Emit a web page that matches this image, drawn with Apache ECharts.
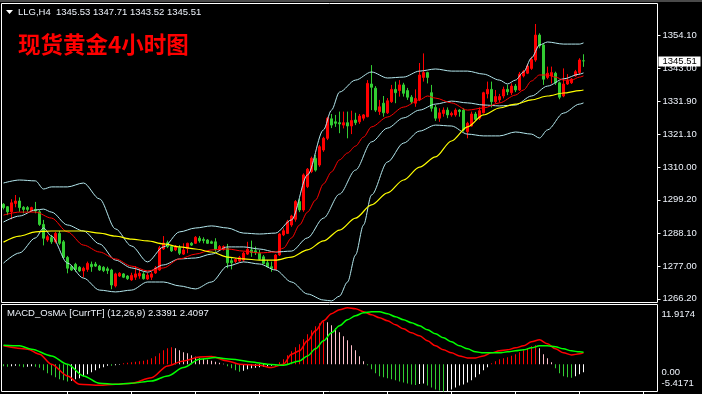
<!DOCTYPE html>
<html><head><meta charset="utf-8">
<script src="https://cdn.jsdelivr.net/npm/echarts@6/dist/echarts.min.js"></script>
<style>html,body{margin:0;padding:0;background:#000;overflow:hidden}#c{width:702px;height:394px}</style>
</head><body><div id="c"></div>
<script>
// ---------- text ----------
const symbolName = 'LLG,H4';
const chartTitle = '现货黄金4小时图';
const indicatorTitle = 'MACD_OsMA [CurrTF] (12,26,9)';

// ---------- candles (H4 bars, oldest first) ----------
const opens = [1297.7,1296.9,1295.2,1298.0,1298.8,1296.7,1296.6,1295.5,1296.0,1295.2,1291.0,1285.8,1286.6,1285.2,1288.0,1285.2,1280.0,1276.9,1277.7,1276.7,
1275.5,1276.0,1277.7,1277.8,1277.1,1276.7,1276.2,1275.8,1270.5,1273.8,1274.5,1273.8,1272.5,1273.4,1273.8,1274.5,1272.8,1273.4,1274.8,1275.8,
1282.8,1284.9,1283.6,1282.5,1283.2,1281.1,1283.0,1284.7,1284.7,1286.4,1286.0,1285.8,1285.2,1285.2,1282.5,1282.7,1283.0,1278.9,1278.6,1278.8,
1279.1,1281.1,1282.5,1282.2,1281.4,1280.2,1278.2,1276.9,1276.0,1280.8,1287.5,1288.0,1290.8,1292.7,1298.6,1295.8,1303.6,1308.6,1313.0,1310.8,
1315.8,1319.7,1326.2,1325.2,1324.9,1324.1,1324.9,1323.8,1325.8,1325.2,1326.4,1326.9,1337.8,1336.4,1328.6,1331.4,1328.2,1331.9,1336.0,1335.6,
1337.5,1335.6,1333.4,1331.4,1332.5,1340.0,1341.6,1334.9,1330.0,1326.4,1328.0,1329.1,1327.5,1327.5,1329.1,1329.1,1321.9,1323.8,1327.8,1326.4,
1328.2,1334.5,1336.0,1331.9,1332.5,1333.8,1336.0,1334.9,1337.1,1335.8,1340.5,1341.4,1343.0,1345.8,1354.1,1350.8,1340.0,1340.5,1341.4,1338.2,
1333.8,1337.8,1338.2,1340.5,1341.6,1345.53];
const closes = [1296.6,1295.2,1298.2,1298.8,1296.6,1296.0,1296.0,1296.6,1295.5,1291.0,1286.4,1286.9,1285.2,1288.0,1284.7,1280.0,1276.4,1275.8,1276.0,1275.5,
1276.4,1278.0,1276.9,1277.1,1275.8,1275.6,1275.6,1270.8,1274.5,1274.7,1273.4,1272.9,1274.0,1274.5,1274.7,1272.9,1274.1,1274.5,1276.5,1283.2,
1284.8,1283.6,1282.2,1283.6,1281.4,1282.5,1284.7,1284.1,1286.7,1285.5,1285.6,1284.7,1284.7,1282.7,1283.6,1283.6,1278.2,1278.2,1279.4,1280.0,
1281.4,1282.7,1281.6,1281.6,1279.4,1278.0,1276.9,1276.4,1280.8,1287.8,1288.9,1291.9,1293.8,1298.6,1295.8,1307.5,1309.4,1313.0,1309.1,1316.9,
1319.7,1326.4,1324.1,1324.7,1324.5,1324.9,1323.8,1325.6,1324.9,1327.1,1327.5,1338.0,1336.7,1329.1,1330.2,1328.2,1332.2,1336.0,1334.9,1337.5,
1334.7,1333.4,1331.9,1333.0,1340.8,1341.6,1340.0,1329.7,1326.4,1328.2,1329.1,1327.5,1328.0,1329.1,1328.6,1322.5,1324.7,1327.8,1326.0,1328.9,
1334.9,1336.0,1331.9,1333.6,1333.6,1336.0,1335.2,1337.1,1335.8,1341.1,1341.9,1343.8,1346.0,1354.1,1350.5,1339.4,1341.4,1341.6,1338.2,1333.4,
1337.8,1338.9,1339.4,1341.9,1345.8,1345.51];
const lows = [1296.0,1294.1,1292.7,1296.7,1295.2,1294.7,1295.2,1295.2,1294.7,1290.5,1284.0,1285.2,1284.5,1284.7,1284.1,1279.7,1274.7,1275.5,1275.2,1275.1,
1273.4,1275.2,1275.2,1276.8,1275.5,1275.1,1274.5,1269.4,1270.0,1273.5,1273.1,1272.5,1272.2,1272.5,1272.9,1272.6,1272.5,1272.5,1274.5,1275.5,
1282.5,1283.1,1281.8,1282.1,1280.8,1280.8,1281.4,1283.8,1284.5,1284.9,1284.7,1284.5,1284.5,1281.9,1282.1,1282.3,1276.4,1276.0,1278.1,1278.5,
1278.6,1280.8,1280.2,1280.8,1279.1,1277.8,1276.7,1275.2,1275.8,1280.5,1287.1,1287.8,1290.2,1291.9,1295.1,1295.2,1303.1,1308.1,1308.6,1310.2,
1315.2,1319.1,1323.1,1323.5,1321.4,1323.0,1319.7,1321.1,1324.1,1324.5,1325.6,1326.7,1329.1,1328.5,1327.5,1326.9,1327.8,1331.5,1331.4,1333.6,
1333.6,1332.5,1331.1,1330.2,1332.1,1338.6,1338.0,1328.6,1325.5,1325.2,1326.9,1326.4,1326.9,1326.9,1326.9,1321.9,1319.7,1323.6,1325.5,1325.8,
1328.0,1333.0,1330.0,1331.4,1331.6,1333.0,1334.1,1334.1,1335.1,1335.5,1340.0,1341.1,1342.5,1345.2,1349.7,1337.5,1339.4,1338.0,1337.5,1332.7,
1333.4,1337.5,1337.8,1340.2,1340.8,1343.52];
const highs = [1298.1,1297.1,1299.4,1300.8,1300.0,1297.1,1297.1,1296.9,1298.5,1295.8,1292.5,1287.5,1287.5,1288.5,1288.8,1285.8,1280.5,1277.5,1278.2,1277.1,
1276.9,1278.6,1278.6,1278.5,1277.5,1277.1,1276.9,1276.2,1274.9,1275.1,1274.8,1274.1,1274.9,1277.1,1276.2,1275.1,1274.8,1275.2,1277.1,1283.8,
1287.1,1285.6,1284.1,1284.1,1284.1,1284.7,1284.9,1285.1,1287.1,1287.1,1286.7,1286.1,1285.6,1286.4,1284.1,1284.0,1284.5,1279.8,1279.8,1280.5,
1281.9,1285.2,1285.6,1283.6,1282.5,1280.8,1279.1,1278.6,1281.1,1288.1,1289.7,1292.5,1294.2,1299.1,1299.5,1308.0,1309.8,1313.6,1314.1,1317.5,
1320.2,1326.9,1327.8,1327.5,1328.6,1328.6,1328.6,1328.9,1328.2,1327.8,1327.8,1339.1,1344.1,1337.1,1332.5,1333.8,1333.1,1337.5,1338.6,1339.1,
1338.2,1336.5,1334.1,1336.0,1344.8,1348.0,1341.9,1337.5,1330.8,1329.7,1330.0,1330.0,1328.6,1329.7,1329.4,1329.7,1325.2,1328.6,1328.5,1330.0,
1335.2,1338.6,1338.6,1335.8,1334.5,1336.9,1337.5,1338.0,1337.8,1341.8,1342.5,1344.5,1346.9,1357.8,1354.7,1351.4,1343.6,1343.6,1341.9,1338.6,
1343.0,1341.1,1339.8,1342.5,1346.4,1347.71];

// ---------- price-axis tick labels ----------
const priceTicks = [1266.20,1277.00,1288.10,1299.20,1310.00,1321.10,1331.90,1343.00,1354.10];

// ---------- overlays, read at bar indexes ----------
const bbUpperIdx = [0,4,8,10,12,16,20,24,28,32,36,40,44,48,52,56,60,64,68,72,76,80,82,84,88,92,96,100,104,108,112,116,120,124,126,128,130,132,134,136,140,144,145];
const bbUpperVal = [1304.8,1305.8,1305.5,1302.8,1303.5,1303.5,1304.8,1299.5,1289.5,1283.8,1278.5,1283.5,1288.5,1289.8,1290.5,1289.8,1288.1,1287.8,1288.1,1292.5,1307.5,1322.5,1329.1,1335.1,1339.1,1341.8,1339.8,1340.1,1342.1,1342.8,1342.1,1342.1,1341.1,1339.1,1337.8,1339.1,1341.8,1346.5,1350.8,1351.8,1351.1,1351.1,1351.5];
const bbMidIdx = [0,4,8,10,12,16,20,24,28,32,36,40,44,48,52,56,60,64,68,72,76,80,84,88,92,96,100,104,108,112,116,120,124,128,132,136,140,144,145];
const bbMidVal = [1291.8,1293.8,1295.8,1296.1,1295.1,1290.8,1288.8,1284.5,1279.1,1276.5,1275.1,1277.5,1279.5,1279.8,1281.1,1283.5,1283.5,1282.8,1281.8,1282.1,1286.5,1293.1,1301.1,1309.1,1318.5,1323.1,1326.5,1329.1,1331.1,1332.1,1331.5,1330.8,1330.5,1330.8,1333.8,1337.1,1339.5,1341.1,1341.5];
const bbLowerIdx = [0,4,8,10,12,16,20,24,28,32,36,40,44,48,52,56,60,64,68,72,76,80,82,84,86,88,90,92,96,100,104,108,112,116,120,124,128,132,134,136,140,144,145];
const bbLowerVal = [1278.1,1281.5,1286.5,1289.8,1287.1,1278.1,1273.1,1269.1,1268.5,1269.1,1271.8,1271.8,1270.5,1269.5,1271.8,1277.1,1278.5,1277.8,1275.8,1271.8,1267.8,1265.8,1265.5,1267.1,1271.8,1280.8,1290.8,1300.8,1311.8,1318.1,1322.1,1324.1,1323.8,1321.1,1320.5,1320.5,1321.8,1321.1,1319.8,1322.5,1328.1,1331.1,1331.5];
const fastMaIdx = [0,4,8,12,16,20,24,28,32,36,40,44,48,52,56,60,64,68,70,72,74,76,78,80,82,84,86,88,90,92,96,100,104,106,108,112,116,120,124,128,130,132,134,136,138,140,142,144,145];
const fastMaVal = [1294.1,1295.1,1295.1,1293.1,1288.5,1284.1,1281.8,1279.5,1277.1,1275.5,1276.5,1279.5,1281.1,1282.5,1282.8,1282.1,1281.5,1281.8,1283.1,1286.5,1290.8,1295.1,1299.1,1304.5,1308.5,1312.5,1314.8,1317.1,1320.1,1323.5,1326.8,1330.1,1332.5,1333.8,1333.1,1331.5,1329.1,1329.8,1331.5,1334.1,1335.8,1338.8,1340.8,1340.8,1340.1,1339.1,1339.1,1340.1,1340.5];
const slowMaIdx = [0,4,8,12,16,20,24,28,32,36,40,44,48,52,56,60,64,68,72,76,80,84,88,92,96,100,104,108,112,116,120,124,128,132,136,140,144,145];
const slowMaVal = [1285.1,1287.1,1288.5,1288.8,1288.8,1288.8,1288.1,1287.1,1286.1,1285.5,1284.5,1283.5,1282.8,1281.8,1280.1,1279.5,1279.1,1279.1,1280.1,1282.5,1285.5,1289.1,1293.1,1297.5,1301.5,1305.8,1310.1,1313.5,1318.8,1323.5,1327.5,1329.8,1331.1,1332.5,1333.8,1334.8,1335.6,1335.8];

// ---------- MACD panel ----------
const macdIdx = [0,6,9,12,16,19,24,28,32,37,41,45,49,52,56,59,64,67,70,72,74,76,78,80,82,84,86,88,90,92,94,96,98,100,102,104,106,108,110,112,114,116,118,120,122,124,126,128,130,132,134,136,138,140,142,144,145];
const macdVal = [3.68,3.02,2.02,0.02,-2.32,-3.98,-4.18,-3.98,-3.78,-2.66,-0.32,0.68,1.48,1.54,0.68,0.02,-0.18,-0.66,0.02,2.02,2.68,4.68,6.68,8.68,10.08,10.88,11.28,11.08,10.48,9.88,9.28,8.68,7.88,7.08,6.28,5.68,4.68,3.68,2.88,2.28,1.68,1.28,1.28,1.68,2.28,2.68,2.88,3.28,3.68,4.48,4.88,4.08,3.08,2.28,1.88,2.08,2.3391];
const signalIdx = [0,4,7,12,16,20,24,28,32,37,41,45,49,53,57,62,66,70,74,76,78,80,82,84,86,88,90,92,94,96,98,100,102,104,106,108,110,112,114,116,118,120,122,124,126,128,130,132,134,136,138,140,142,144,145];
const signalVal = [3.82,3.68,3.02,1.68,0.02,-2.32,-3.78,-3.98,-3.78,-3.32,-2.32,-0.66,1.02,1.34,1.02,0.48,0.02,-0.18,0.68,1.68,3.08,4.68,6.28,7.68,8.88,9.68,10.28,10.48,10.48,10.08,9.48,8.88,8.28,7.68,6.88,6.08,5.28,4.48,3.68,3.08,2.48,2.28,2.28,2.28,2.48,2.68,2.88,3.28,3.68,3.68,3.48,3.08,2.68,2.48,2.4097];
const osma = [-0.4,-0.5,-0.4,-0.3,-0.4,-0.6,-0.5,-0.4,-0.5,-0.7,-1.2,-1.8,-2.2,-2.6,-3.0,-3.2,-3.4,-3.3,-3.0,-2.8,
-2.4,-2.0,-1.6,-1.2,-0.8,-0.6,-0.3,-0.3,-0.2,-0.1,0.2,0.3,0.4,0.5,0.6,0.7,0.9,1.2,1.6,2.2,
2.8,3.2,3.4,3.2,2.8,2.4,2.2,1.8,1.5,1.2,1.1,0.9,0.7,0.5,0.3,0.1,-0.4,-0.8,-1.2,-1.5,
-1.3,-1.0,-0.8,-0.7,-0.6,-0.5,-0.4,-0.3,-0.2,0.4,1.0,1.8,2.6,3.4,4.0,5.0,6.0,6.8,7.6,8.2,
8.6,8.4,7.8,7.2,6.4,5.6,4.8,3.8,2.8,1.6,0.6,-0.2,-1.0,-1.8,-2.4,-2.6,-2.8,-3.0,-3.2,-3.4,
-3.6,-3.8,-4.0,-4.1,-3.9,-3.8,-4.2,-4.6,-5.0,-5.2,-5.4,-5.3,-5.0,-4.6,-4.2,-4.0,-3.6,-3.2,-2.6,-2.0,
-1.2,-0.6,0.2,0.6,1.0,1.2,1.4,1.7,2.0,2.4,2.8,3.2,3.6,3.8,3.2,2.0,1.2,0.4,-0.8,-1.8,
-2.4,-2.6,-2.7,-2.4,-2.0,-1.6];
const macdMax = 11.9174, macdMin = -5.4171;
const macdTicks = [11.9174, 0, -5.4171];

// ---------- build ----------
const slotCount = 164; // chart shift leaves empty room on the right
const categories = Array.from({length: slotCount}, (_, i) => String(i + 1));
const last = closes.length - 1;
const candleData = opens.map((o, i) => [o, closes[i], lows[i], highs[i]]);
const pairs = (idx, val) => idx.map((x, k) => [x, val[k]]);
const FONT = 'Liberation Sans';
const TXT = '#eef3fb';

const lineSeries = (name, idx, val, color, width) => ({
  name, type: 'line', xAxisIndex: 0, yAxisIndex: 0, data: pairs(idx, val),
  showSymbol: false, symbol: 'none', smooth: 0.3, smoothMonotone: 'x', silent: true, z: 3,
  lineStyle: {color, width}
});

const chart = echarts.init(document.getElementById('c'), null, {renderer: 'canvas'});
const baseGraphics = [
  {type: 'rect', left: 0, top: 0, shape: {width: 702, height: 2}, style: {fill: '#4a4a4a'}, silent: true},
  {type: 'polygon', shape: {points: [[6, 10], [13, 10], [9.5, 14]]}, style: {fill: '#fff'}, silent: true},
  {type: 'text', left: 18, top: 7, silent: true,
   style: {text: symbolName + '  ' + opens[last].toFixed(2) + ' ' + highs[last].toFixed(2) + ' ' + lows[last].toFixed(2) + ' ' + closes[last].toFixed(2),
           fill: TXT, font: '9.5px "Liberation Sans"'}},
  {type: 'text', left: 18, top: 33, silent: true,
   style: {text: chartTitle, fill: '#ff0000', font: 'bold 22.5px "Noto Sans CJK SC"'}},
  {type: 'text', left: 7, top: 308, silent: true,
   style: {text: indicatorTitle + ' ' + macdVal[macdVal.length - 1].toFixed(4) + ' ' + signalVal[signalVal.length - 1].toFixed(4),
           fill: TXT, font: '9.5px "Liberation Sans"'}}
];
chart.setOption({
  backgroundColor: '#000',
  animation: false,
  grid: [
    {left: 1.5, top: 3.5, width: 656, height: 299, show: true, borderColor: '#fff', borderWidth: 1, backgroundColor: 'transparent'},
    {left: 1.5, top: 304.5, width: 656, height: 87, show: true, borderColor: '#fff', borderWidth: 1, backgroundColor: 'transparent'}
  ],
  xAxis: [
    {gridIndex: 0, type: 'category', data: categories, boundaryGap: true, show: false},
    {gridIndex: 1, type: 'category', data: categories, boundaryGap: true, position: 'bottom',
     axisLine: {show: false, onZero: false}, axisLabel: {show: false}, splitLine: {show: false},
     axisTick: {show: true, alignWithLabel: true, length: 3, interval: (i) => i > 0 && i % 16 === 0, lineStyle: {color: '#fff', width: 1}}}
  ],
  yAxis: [
    {gridIndex: 0, type: 'value', position: 'right', min: 1264.97, max: 1364.63,
     splitLine: {show: false}, axisLine: {show: false},
     axisTick: {show: true, length: 3, customValues: priceTicks, lineStyle: {color: '#fff'}},
     axisLabel: {customValues: priceTicks, formatter: v => v.toFixed(2), color: TXT, fontSize: 9.5, fontFamily: FONT, margin: 5}},
    {gridIndex: 1, type: 'value', position: 'right', min: macdMin, max: macdMax,
     splitLine: {show: false}, axisLine: {show: false}, axisTick: {show: false},
     axisLabel: {customValues: macdTicks, color: TXT, fontSize: 9.5, fontFamily: FONT, margin: 4,
       formatter: v => v === 0 ? '{z|0.00}' : (v > 0 ? '{t|' + v.toFixed(4) + '}' : '{b|' + v.toFixed(4) + '}'),
       rich: {t: {padding: [19, 0, 0, 0]}, z: {padding: [17, 0, 0, 0]}, b: {padding: [0, 0, 17, 0]}}}}
  ],
  series: [
    {name: 'price', type: 'candlestick', xAxisIndex: 0, yAxisIndex: 0, data: candleData, barWidth: 2, z: 2,
     itemStyle: {color: '#ff0000', color0: '#32cd32', borderColor: '#ff0000', borderColor0: '#32cd32', borderWidth: 1}},
    lineSeries('BB upper', bbUpperIdx, bbUpperVal, '#b4e8ee', 1),
    lineSeries('BB middle', bbMidIdx, bbMidVal, '#b4e8ee', 1),
    lineSeries('BB lower', bbLowerIdx, bbLowerVal, '#b4e8ee', 1),
    lineSeries('MA fast', fastMaIdx, fastMaVal, '#ff0000', 1),
    lineSeries('MA slow', slowMaIdx, slowMaVal, '#ffff00', 1.2),
    {name: 'OsMA', type: 'bar', xAxisIndex: 1, yAxisIndex: 1, data: osma, barWidth: 1, silent: true, z: 2,
     itemStyle: {color: p => {
       const v = osma[p.dataIndex], prev = p.dataIndex > 0 ? osma[p.dataIndex - 1] : 0;
       if (v >= 0) return v >= prev ? '#ff0000' : '#ffc0cb';
       return v <= prev ? '#32cd32' : '#ffffff';
     }}},
    {name: 'MACD', type: 'line', xAxisIndex: 1, yAxisIndex: 1, data: pairs(macdIdx, macdVal), showSymbol: false, symbol: 'none',
     smooth: 0.3, smoothMonotone: 'x', silent: true, z: 3, lineStyle: {color: '#ff0000', width: 1.5}},
    {name: 'Signal', type: 'line', xAxisIndex: 1, yAxisIndex: 1, data: pairs(signalIdx, signalVal), showSymbol: false, symbol: 'none',
     smooth: 0.3, smoothMonotone: 'x', silent: true, z: 4, lineStyle: {color: '#00ff00', width: 1.5}}
  ],
  graphic: baseGraphics
});

// current-price tag on the price scale, placed through the axis scale
const tagY = chart.convertToPixel({yAxisIndex: 0}, closes[last]);
const axisX = chart.convertToPixel({xAxisIndex: 0}, slotCount - 1) + 2;
chart.setOption({
  graphic: baseGraphics.concat([
    {type: 'rect', z: 100, silent: true, shape: {x: axisX + 1, y: Math.round(tagY) - 4.5, width: 42, height: 10}, style: {fill: '#fff'}},
    {type: 'text', z: 101, silent: true, x: axisX + 5, y: Math.round(tagY) + 0.5,
     style: {text: closes[last].toFixed(2), fill: '#000', font: '9.5px "Liberation Sans"', verticalAlign: 'middle'}}
  ])
});
</script>
</body></html>
